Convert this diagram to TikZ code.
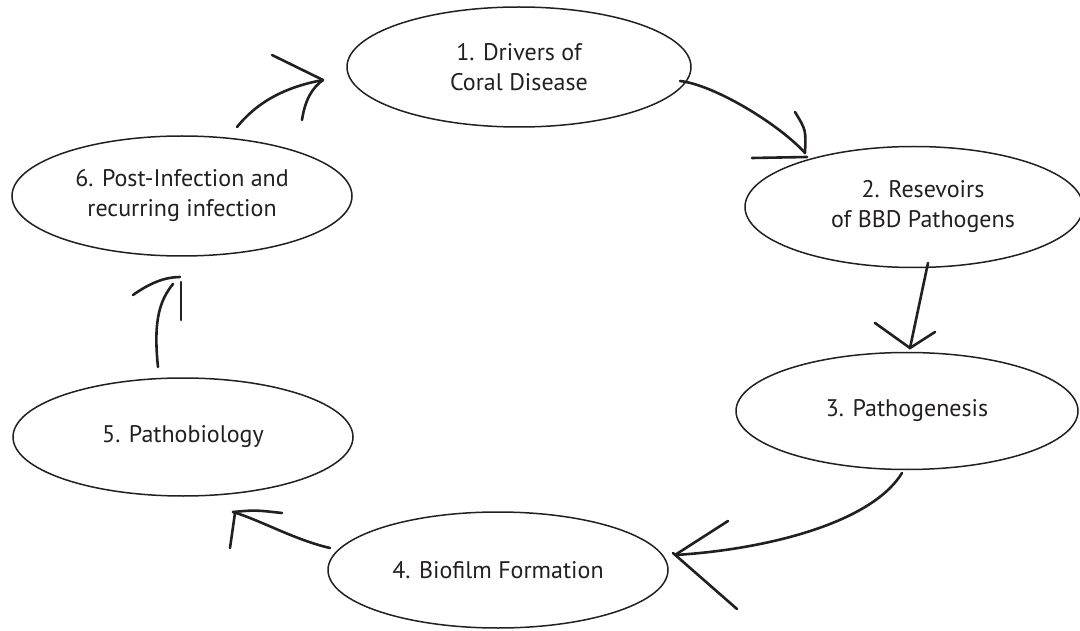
\documentclass[tikz,border=0pt]{standalone}
\usepackage{fontspec}
\setmainfont{PT Sans}
\usetikzlibrary{shapes.geometric}
\definecolor{ink}{HTML}{231F20}
\tikzset{
  stage/.style={ellipse, draw=ink, line width=1.5pt, inner sep=0pt, align=center,
    text=ink, font=\fontsize{24}{30}\selectfont},
  hand/.style={draw=ink, line width=2.6pt, line cap=round},
}
\begin{document}
\begin{tikzpicture}[x=1pt,y=-1pt]
\useasboundingbox (0,0) rectangle (1080,631);
% stages
\node[stage, minimum width=344pt, minimum height=120pt] (e1) at (519,67) {1. Drivers of\\Coral Disease};
\node[stage, minimum width=338pt, minimum height=121pt] (e2) at (914,207) {\hspace*{18pt}2. Resevoirs\\\hspace*{18pt}of BBD Pathogens};
\node[stage, minimum width=342pt, minimum height=117pt] (e3) at (907,411) {3. Pathogenesis};
\node[stage, minimum width=340pt, minimum height=116pt] (e4) at (498,570) {4. Biofilm Formation};
\node[stage, minimum width=340pt, minimum height=118pt] (e5) at (183,437) {5. Pathobiology};
\node[stage, minimum width=340pt, minimum height=120pt] (e6) at (182,196) {6. Post-Infection and\\recurring infection};
% connector end points
\coordinate (s12) at (680,81);  \coordinate (t12) at (805,153);
\coordinate (s23) at (928,263); \coordinate (t23) at (910,348);
\coordinate (s34) at (902,473); \coordinate (t34) at (675,555);
\coordinate (s45) at (330,548); \coordinate (t45) at (233,512);
\coordinate (s56) at (158,367); \coordinate (t56) at (177,280);
\coordinate (s61) at (237,127); \coordinate (t61) at (323,80);
% 1 -> 2
\draw[hand] (s12) .. controls (715,85) and (780,125) .. (t12);
\draw[hand] (t12) .. controls (806,130) .. (795,112);
\draw[hand] (752,158) -- (807,157);
% 2 -> 3
\draw[hand] (s23) -- (t23);
\draw[hand] (875,323) -- (t23) -- (935,332);
% 3 -> 4
\draw[hand] (s34) .. controls (870,525) and (760,550) .. (t34);
\draw[hand] (728,521) -- (t34);
\draw[hand] (673,553) -- (737,609);
% 4 -> 5
\draw[hand] (s45) .. controls (295,540) and (260,520) .. (t45);
\draw[hand] (t45) .. controls (255,510) .. (282,513);
\draw[hand] (235,513) -- (230,548);
% 5 -> 6
\draw[hand] (s56) .. controls (153,320) and (160,300) .. (173,284);
\draw[hand] (133,295) .. controls (150,283) and (165,277) .. (180,277);
\draw[hand] (181,282) -- (181,320);
% 6 -> 1
\draw[hand] (s61) .. controls (255,105) and (280,88) .. (t61);
\draw[hand] (272,55) -- (t61);
\draw[hand] (302,120) .. controls (305,100) and (312,88) .. (t61);
\end{tikzpicture}
\end{document}
